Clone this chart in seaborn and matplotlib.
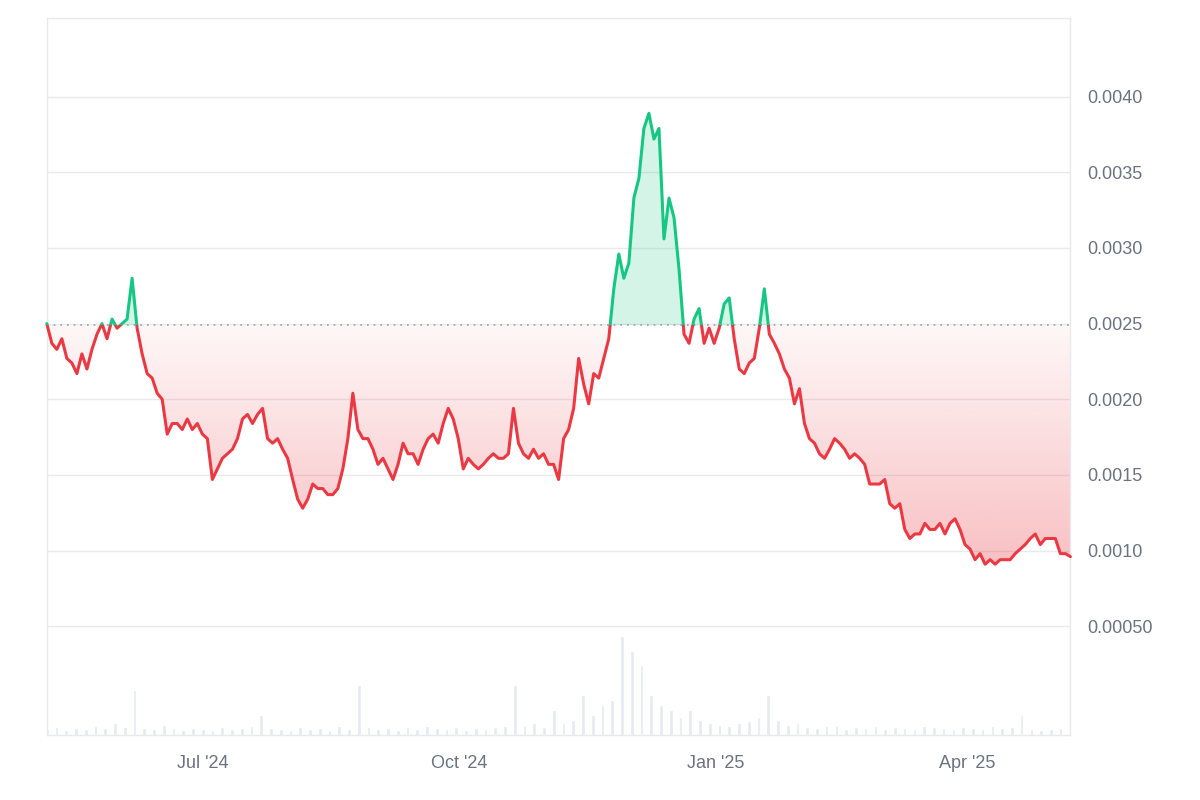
import numpy as np
import pandas as pd
import seaborn as sns
import matplotlib.pyplot as plt
import matplotlib.dates as mdates
from matplotlib.patches import Rectangle
from matplotlib.path import Path as MPath

# ---- data ----
start_date = "2024-05-06"
end_date = "2025-05-08"
prices = [
    0.00250, 0.00237, 0.00233, 0.00240, 0.00227, 0.00224, 0.00217, 0.00230, 0.00220, 0.00233,
    0.00243, 0.00250, 0.00240, 0.00253, 0.00247, 0.00250, 0.00253, 0.00280, 0.00247, 0.00230,
    0.00217, 0.00214, 0.00204, 0.00200, 0.00177, 0.00184, 0.00184, 0.00180, 0.00187, 0.00180,
    0.00184, 0.00177, 0.00174, 0.00147, 0.00154, 0.00161, 0.00164, 0.00167, 0.00174, 0.00187,
    0.00190, 0.00184, 0.00190, 0.00194, 0.00174, 0.00171, 0.00174, 0.00167, 0.00161, 0.00147,
    0.00134, 0.00128, 0.00134, 0.00144, 0.00141, 0.00141, 0.00137, 0.00137, 0.00141, 0.00154,
    0.00174, 0.00204, 0.00180, 0.00174, 0.00174, 0.00167, 0.00157, 0.00161, 0.00154, 0.00147,
    0.00157, 0.00171, 0.00164, 0.00164, 0.00157, 0.00167, 0.00174, 0.00177, 0.00171, 0.00184,
    0.00194, 0.00187, 0.00174, 0.00154, 0.00161, 0.00157, 0.00154, 0.00157, 0.00161, 0.00164,
    0.00161, 0.00161, 0.00164, 0.00194, 0.00171, 0.00164, 0.00161, 0.00167, 0.00161, 0.00164,
    0.00157, 0.00157, 0.00147, 0.00174, 0.00180, 0.00194, 0.00227, 0.00210, 0.00197, 0.00217,
    0.00214, 0.00227, 0.00240, 0.00273, 0.00296, 0.00280, 0.00290, 0.00333, 0.00346, 0.00379,
    0.00389, 0.00372, 0.00379, 0.00306, 0.00333, 0.00320, 0.00286, 0.00243, 0.00237, 0.00253,
    0.00260, 0.00237, 0.00247, 0.00237, 0.00247, 0.00263, 0.00267, 0.00240, 0.00220, 0.00217,
    0.00224, 0.00227, 0.00247, 0.00273, 0.00243, 0.00237, 0.00230, 0.00220, 0.00214, 0.00197,
    0.00207, 0.00184, 0.00174, 0.00171, 0.00164, 0.00161, 0.00167, 0.00174, 0.00171, 0.00167,
    0.00161, 0.00164, 0.00161, 0.00157, 0.00144, 0.00144, 0.00144, 0.00147, 0.00131, 0.00128,
    0.00131, 0.00114, 0.00108, 0.00111, 0.00111, 0.00118, 0.00114, 0.00114, 0.00118, 0.00111,
    0.00118, 0.00121, 0.00114, 0.00104, 0.00101, 0.00094, 0.00098, 0.00091, 0.00094, 0.00091,
    0.00094, 0.00094, 0.00094, 0.00098, 0.00101, 0.00104, 0.00108, 0.00111, 0.00104, 0.00108,
    0.00108, 0.00108, 0.00098, 0.00098, 0.00096,
]
baseline = 0.00249

# volume, arbitrary units, about every 3-4 days
volumes = [
    6, 8, 5, 7, 6, 9, 7, 12, 8, 45,
    7, 6, 10, 7, 5, 7, 6, 5, 8, 6, 7, 9, 20,
    7, 6, 5, 8, 6, 7, 5, 9, 6, 50,
    8, 6, 7, 5, 8, 6, 9, 7, 6, 8, 5, 7, 6, 8, 9, 50,
    10, 12, 8, 25, 12, 15, 40, 20, 30, 35, 100, 85, 70, 40,
    30, 25, 18, 25, 15, 12, 10, 9, 12, 14, 18, 40,
    15, 10, 12, 8, 7, 9, 10, 6, 8, 7, 9, 6, 8, 7, 6, 9, 8, 7, 6, 8, 7, 6, 9, 7, 8,
    20, 6, 5, 6, 7, 5,
]

ytick_vals = [0.0005, 0.0010, 0.0015, 0.0020, 0.0025, 0.0030, 0.0035, 0.0040]
ytick_labels = ["0.00050", "0.0010", "0.0015", "0.0020", "0.0025", "0.0030", "0.0035", "0.0040"]
xtick_dates = ["2024-07-01", "2024-10-01", "2025-01-01", "2025-04-01"]
xtick_labels = ["Jul '24", "Oct '24", "Jan '25", "Apr '25"]

RED = "#ea3943"
GREEN = "#16c784"
GRID = "#e8eaed"
TXT = "#6b7280"

df = pd.DataFrame({
    "date": pd.date_range(start_date, end_date, periods=len(prices)),
    "price": prices,
})
vol_df = pd.DataFrame({
    "date": pd.date_range(start_date, end_date, periods=len(volumes)),
    "volume": volumes,
})

sns.set_theme(style="white")
plt.rcParams['font.family'] = ['Liberation Sans', 'DejaVu Sans']

fig = plt.figure(figsize=(12, 8), dpi=100)
ax = fig.add_axes([0.039, 0.081, 0.853, 0.8965])

ymin, ymax = -0.00022, 0.00452
x0, x1 = mdates.date2num(df["date"].iloc[0]), mdates.date2num(df["date"].iloc[-1])

# volume bars on a twin axis
axv = ax.twinx()
axv.bar(vol_df["date"], vol_df["volume"], width=1.3, color="#e6eaef", zorder=0)
axv.set_ylim(0, max(volumes) * 7.2)
axv.set_yticks([])
for s in axv.spines.values():
    s.set_visible(False)
ax.set_zorder(axv.get_zorder() + 1)
ax.patch.set_visible(False)

# fills
xs = mdates.date2num(df["date"])
p = np.array(prices)
fill_red = ax.fill_between(xs, p, baseline, where=p <= baseline, interpolate=True,
                           color="none", linewidth=0)
ax.fill_between(xs, p, baseline, where=p >= baseline, interpolate=True,
                color=GREEN, alpha=0.18, linewidth=0)
# red gradient: faint near baseline, stronger further down
rgba = np.zeros((256, 1, 4))
rgba[..., :3] = plt.matplotlib.colors.to_rgb(RED)
rgba[..., 3] = np.linspace(0.04, 0.32, 256).reshape(-1, 1)
img = ax.imshow(rgba, extent=[x0, x1, baseline, 0.0009], origin="lower",
                aspect="auto", zorder=1)
img.set_clip_path(MPath.make_compound_path(*fill_red.get_paths()), transform=ax.transData)

# price line, coloured by side of baseline
for color, lo, hi in [(RED, ymin, baseline), (GREEN, baseline, ymax)]:
    sns.lineplot(data=df, x="date", y="price", ax=ax, color=color, linewidth=2.2, zorder=3)
    line = ax.lines[-1]
    line.set_clip_path(Rectangle((x0 - 5, lo), x1 - x0 + 10, hi - lo, transform=ax.transData))

ax.axhline(baseline, color="#9aa0a6", linestyle=(0, (1, 3)), linewidth=1.2, zorder=2)

ax.set_xlim(x0, x1)
ax.set_ylim(ymin, ymax)
ax.set_yticks(ytick_vals)
ax.set_yticklabels(ytick_labels)
ax.yaxis.tick_right()
ax.tick_params(axis="y", length=0, pad=12, labelsize=13, labelcolor=TXT)
ax.set_xticks(mdates.date2num(pd.to_datetime(xtick_dates)))
ax.set_xticklabels(xtick_labels)
ax.tick_params(axis="x", length=0, pad=14, labelsize=13, labelcolor=TXT)
ax.grid(axis="y", color=GRID, linewidth=1)
ax.set_xlabel("")
ax.set_ylabel("")
for s in ax.spines.values():
    s.set_color(GRID)
    s.set_linewidth(1)

fig.savefig("out.png", dpi=100, facecolor="white")
